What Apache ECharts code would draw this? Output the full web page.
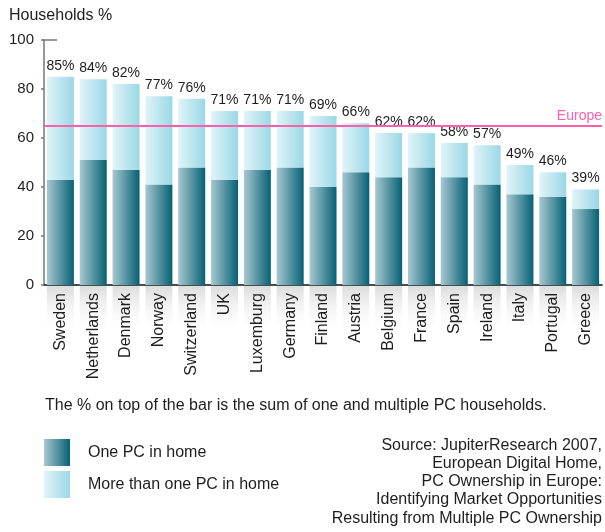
<!DOCTYPE html>
<html>
<head>
<meta charset="utf-8">
<script src="https://cdn.jsdelivr.net/npm/echarts@6/dist/echarts.min.js"></script>
<style>
  html, body { margin: 0; padding: 0; background: #fff; }
  #chart { width: 605px; height: 532px; }
</style>
</head>
<body>
<div id="chart"></div>
<script>
// PC ownership by country (% of households)
const countries = ['Sweden', 'Netherlands', 'Denmark', 'Norway', 'Switzerland', 'UK', 'Luxemburg', 'Germany',
  'Finland', 'Austria', 'Belgium', 'France', 'Spain', 'Ireland', 'Italy', 'Portugal', 'Greece'];
const totalPct = [85, 84, 82, 77, 76, 71, 71, 71, 69, 66, 62, 62, 58, 57, 49, 46, 39];
const onePc = [43, 51, 47, 41, 48, 43, 47, 48, 40, 46, 44, 48, 44, 41, 37, 36, 31];
const multiPc = totalPct.map((t, i) => t - onePc[i]);
const europeAvg = 65;
const yTicks = [0, 20, 40, 60, 80, 100];

const FONT = '"Liberation Sans", Arial, sans-serif';
const INK = '#1e1e1e';
const chart = echarts.init(document.getElementById('chart'));

const darkFill = new echarts.graphic.LinearGradient(0, 0, 1, 0, [
  { offset: 0, color: '#a8c8d0' },
  { offset: 1, color: '#056175' }
]);
const lightFill = new echarts.graphic.LinearGradient(0, 0, 1, 0, [
  { offset: 0, color: '#e0f4f8' },
  { offset: 1, color: '#9ad8e6' }
]);
const labelBg = new echarts.graphic.LinearGradient(0, 0, 1, 0, [
  { offset: 0, color: 'rgba(255,255,255,0)' },
  { offset: 1, color: '#dcdcdc' }
]);

chart.setOption({
  animation: false,
  textStyle: { fontFamily: FONT },
  grid: { left: 44, right: 3, top: 40, bottom: 247 },
  title: {
    text: 'Households %',
    left: 4, top: 3,
    textStyle: { fontSize: 16, fontWeight: 'normal', color: INK, fontFamily: FONT }
  },
  legend: {
    orient: 'vertical',
    left: 44, top: 439,
    padding: 0,
    itemWidth: 26, itemHeight: 27, itemGap: 5,
    icon: 'rect',
    textStyle: { fontSize: 16, color: INK, padding: [0, 0, 0, 13], fontFamily: FONT },
    data: ['One PC in home', 'More than one PC in home']
  },
  xAxis: {
    type: 'category',
    data: countries,
    axisLine: { lineStyle: { color: '#111', width: 1.5 } },
    axisTick: { show: false },
    axisLabel: {
      rotate: 90,
      interval: 0,
      margin: 1,
      fontSize: 16,
      color: INK,
      fontFamily: FONT,
      width: 42,
      height: 27,
      lineHeight: 27,
      align: 'right',
      padding: [0, 7, 0, 0],
      backgroundColor: labelBg
    }
  },
  yAxis: {
    type: 'value',
    min: 0, max: 100, interval: 20,
    axisLine: { show: true, lineStyle: { color: '#777', width: 1.5 } },
    axisTick: { show: true, length: 3, lineStyle: { color: '#777', width: 1.5 } },
    splitLine: { show: false },
    axisLabel: {
      fontSize: 15, color: INK, margin: 10, fontFamily: FONT,
      padding: [6, 0, 0, 0],
      formatter: v => yTicks.includes(v) ? String(v) : ''
    }
  },
  series: [
    {
      name: 'One PC in home',
      type: 'bar',
      stack: 'pc',
      barWidth: 27,
      data: onePc,
      itemStyle: { color: darkFill },
      markLine: {
        symbol: 'none',
        silent: true,
        lineStyle: { color: '#ff5fab', width: 2, type: 'solid' },
        label: {
          position: 'insideEndTop',
          formatter: 'Europe',
          color: '#ff5fab',
          fontSize: 14,
          fontFamily: FONT,
          distance: [0, 3]
        },
        data: [{ yAxis: europeAvg }]
      },
      z: 2
    },
    {
      name: 'More than one PC in home',
      type: 'bar',
      stack: 'pc',
      barWidth: 27,
      data: multiPc,
      itemStyle: { color: lightFill },
      label: {
        show: true,
        position: 'top',
        distance: 4,
        fontSize: 14,
        color: INK,
        fontFamily: FONT,
        formatter: p => totalPct[p.dataIndex] + '%'
      },
      z: 2
    }
  ],
  graphic: [
    {
      type: 'text',
      x: 45, y: 398,
      style: {
        text: 'The % on top of the bar is the sum of one and multiple PC households.',
        fontSize: 16, fill: INK, fontFamily: FONT
      }
    },
    {
      type: 'text',
      x: 602, y: 436,
      style: {
        text: 'Source: JupiterResearch 2007,\nEuropean Digital Home,\nPC Ownership in Europe:\nIdentifying Market Opportunities\nResulting from Multiple PC Ownership',
        fontSize: 16, lineHeight: 18.3, fill: INK, align: 'right', fontFamily: FONT
      }
    }
  ]
});

// short cap stroke at the top end of the value axis
const axisTopPx = chart.convertToPixel({ gridIndex: 0 }, [0, 100]);
chart.setOption({
  graphic: [
    {}, {},
    {
      type: 'line',
      shape: { x1: 44, y1: axisTopPx[1], x2: 57, y2: axisTopPx[1] },
      style: { stroke: '#777', lineWidth: 1.5 }
    }
  ]
});
</script>
</body>
</html>
